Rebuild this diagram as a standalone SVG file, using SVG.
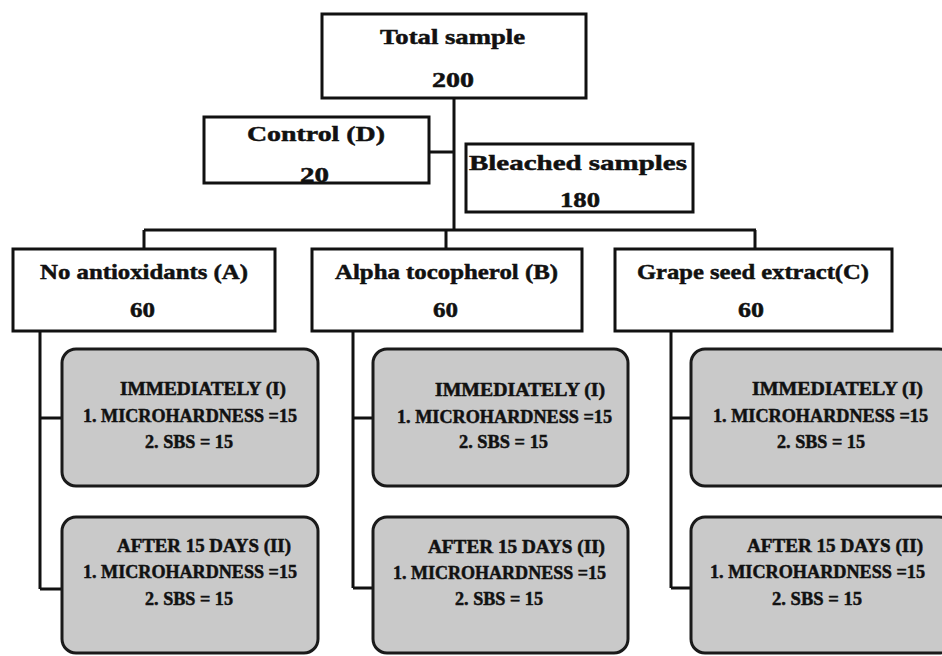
<svg xmlns="http://www.w3.org/2000/svg" width="942" height="656" viewBox="0 0 942 656">
<style>
.box{fill:#fff;stroke:#111;stroke-width:3}
.gbox{fill:#c9c9c9;stroke:#1a1a1a;stroke-width:3}
.conn{fill:none;stroke:#111;stroke-width:3}
text{font-family:"Liberation Serif","Times New Roman",serif;font-weight:bold;fill:#111;stroke:#111;stroke-width:0.5}
.h{font-size:22px}
.s{font-size:18px}
</style>
<rect width="942" height="656" fill="#fff"/>
<g id="connectors">
<path class="conn" d="M454,98V231M429,152H454M144,230H756M144,230V249M446,230V249M755,230V249"/>
<path class="conn" d="M40,331V589M40,418H62M40,589H62"/>
<path class="conn" d="M353,331V588M353,418H373M353,588H373"/>
<path class="conn" d="M671,331V588M671,418H691M671,588H691"/>
</g>
<g id="total">
<rect class="box" x="322" y="14" width="264" height="84"/>
<text class="h" x="380" y="44" textLength="145" lengthAdjust="spacingAndGlyphs">Total sample</text>
<text class="h" x="432" y="87" textLength="42" lengthAdjust="spacingAndGlyphs">200</text>
</g>
<g id="control">
<rect class="box" x="204" y="117" width="225" height="66"/>
<text class="h" x="247" y="141" textLength="138" lengthAdjust="spacingAndGlyphs">Control (D)</text>
<text class="h" x="300" y="182" textLength="29" lengthAdjust="spacingAndGlyphs">20</text>
</g>
<g id="bleached">
<rect class="box" x="466" y="144" width="227" height="68"/>
<text class="h" x="469" y="170" textLength="218" lengthAdjust="spacingAndGlyphs">Bleached  samples</text>
<text class="h" x="560" y="207" textLength="40" lengthAdjust="spacingAndGlyphs">180</text>
</g>
<g id="groupA">
<rect class="box" x="13" y="249" width="262" height="82"/>
<text class="h" x="40" y="279" textLength="208" lengthAdjust="spacingAndGlyphs">No antioxidants (A)</text>
<text class="h" x="130" y="317" textLength="25" lengthAdjust="spacingAndGlyphs">60</text>
</g>
<g id="groupB">
<rect class="box" x="312" y="249" width="270" height="82"/>
<text class="h" x="335" y="279" textLength="223" lengthAdjust="spacingAndGlyphs">Alpha tocopherol (B)</text>
<text class="h" x="433" y="317" textLength="25" lengthAdjust="spacingAndGlyphs">60</text>
</g>
<g id="groupC">
<rect class="box" x="615" y="249" width="277" height="82"/>
<text class="h" x="637" y="279" textLength="232" lengthAdjust="spacingAndGlyphs">Grape seed  extract(C)</text>
<text class="h" x="738" y="317" textLength="26" lengthAdjust="spacingAndGlyphs">60</text>
</g>
<g id="A1">
<rect class="gbox" x="62" y="349" width="256" height="137" rx="14"/>
<text class="s" x="120" y="395" textLength="166" lengthAdjust="spacingAndGlyphs">IMMEDIATELY (I)</text>
<text class="s" x="83" y="422" textLength="214" lengthAdjust="spacingAndGlyphs">1. MICROHARDNESS =15</text>
<text class="s" x="145" y="448" textLength="88" lengthAdjust="spacingAndGlyphs">2. SBS = 15</text>
</g>
<g id="A2">
<rect class="gbox" x="62" y="517" width="256" height="136" rx="14"/>
<text class="s" x="117" y="552" textLength="174" lengthAdjust="spacingAndGlyphs">AFTER 15 DAYS (II)</text>
<text class="s" x="83" y="578" textLength="214" lengthAdjust="spacingAndGlyphs">1. MICROHARDNESS =15</text>
<text class="s" x="145" y="605" textLength="88" lengthAdjust="spacingAndGlyphs">2. SBS = 15</text>
</g>
<g id="B1">
<rect class="gbox" x="373" y="349" width="255" height="137" rx="14"/>
<text class="s" x="435" y="396" textLength="170" lengthAdjust="spacingAndGlyphs">IMMEDIATELY  (I)</text>
<text class="s" x="397" y="423" textLength="215" lengthAdjust="spacingAndGlyphs">1. MICROHARDNESS =15</text>
<text class="s" x="459" y="448" textLength="89" lengthAdjust="spacingAndGlyphs">2. SBS = 15</text>
</g>
<g id="B2">
<rect class="gbox" x="373" y="517" width="255" height="136" rx="14"/>
<text class="s" x="428" y="553" textLength="177" lengthAdjust="spacingAndGlyphs">AFTER 15 DAYS  (II)</text>
<text class="s" x="393" y="579" textLength="213" lengthAdjust="spacingAndGlyphs">1. MICROHARDNESS =15</text>
<text class="s" x="455" y="605" textLength="88" lengthAdjust="spacingAndGlyphs">2. SBS = 15</text>
</g>
<g id="C1">
<rect class="gbox" x="691" y="349" width="262" height="137" rx="14"/>
<text class="s" x="752" y="395" textLength="171" lengthAdjust="spacingAndGlyphs">IMMEDIATELY  (I)</text>
<text class="s" x="713" y="422" textLength="215" lengthAdjust="spacingAndGlyphs">1. MICROHARDNESS =15</text>
<text class="s" x="777" y="448" textLength="88" lengthAdjust="spacingAndGlyphs">2. SBS = 15</text>
</g>
<g id="C2">
<rect class="gbox" x="691" y="517" width="262" height="136" rx="14"/>
<text class="s" x="747" y="552" textLength="176" lengthAdjust="spacingAndGlyphs">AFTER 15 DAYS  (II)</text>
<text class="s" x="710" y="578" textLength="215" lengthAdjust="spacingAndGlyphs">1. MICROHARDNESS =15</text>
<text class="s" x="772" y="605" textLength="90" lengthAdjust="spacingAndGlyphs">2. SBS = 15</text>
</g>
</svg>
